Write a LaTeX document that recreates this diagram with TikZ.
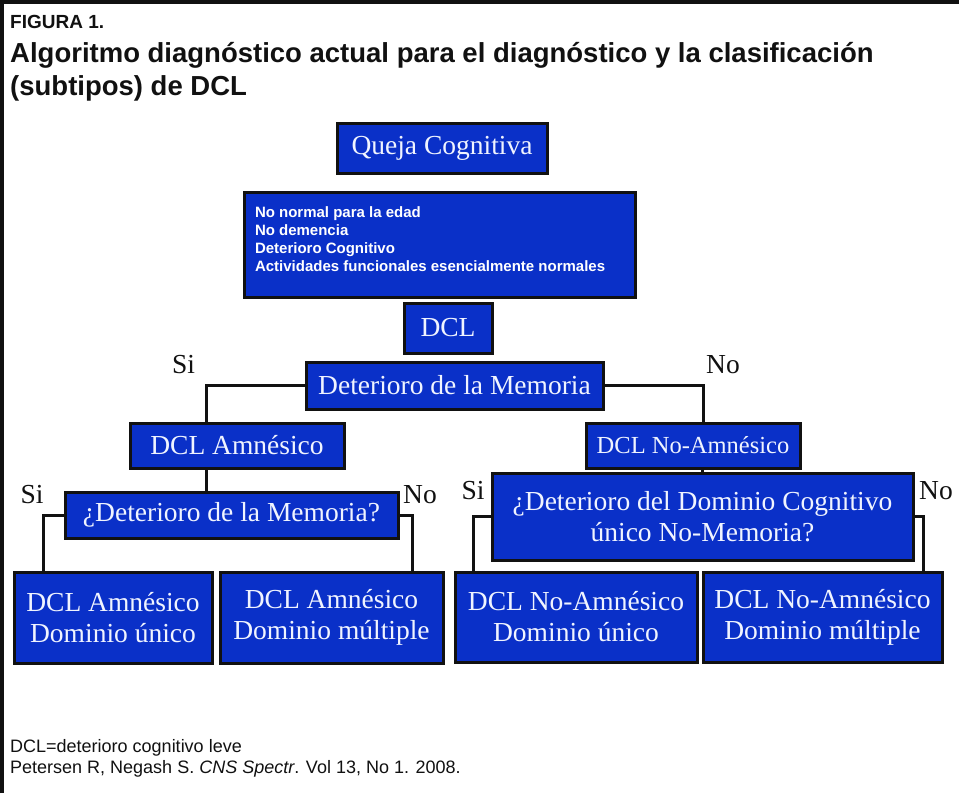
\documentclass[tikz,border=0pt]{standalone}
\usepackage{fontspec}
\setmainfont{Liberation Serif}
\setsansfont{Liberation Sans}
\usepackage{tikz}
\usepackage{xcolor}
\usetikzlibrary{positioning,calc}
\definecolor{boxblue}{HTML}{0A30C8}
\definecolor{boxink}{HTML}{F0F4FF}
\definecolor{ink}{HTML}{111111}
\tikzset{
  bluebox/.style={draw=ink,fill=boxblue,line width=3pt,text=boxink,
                  inner sep=0pt,align=center,font=\fontsize{27.5}{31}\selectfont},
  critbox/.style={draw=ink,fill=boxblue,line width=3pt,text=white,
                  inner xsep=11pt,inner ysep=15pt,
                  font=\sffamily\bfseries\fontsize{15}{18}\selectfont},
  yesno/.style={inner sep=0pt,text=ink,font=\fontsize{27.5}{31}\selectfont},
  elbow/.style={draw=ink,line width=3pt},
  titletext/.style={anchor=base west,inner sep=0pt,text=ink,font=\sffamily\bfseries},
  refline/.style={anchor=base west,inner sep=0pt,text=ink,
                  font=\sffamily\fontsize{18}{21}\selectfont}
}

\begin{document}
\begin{tikzpicture}[x=1pt,y=-1pt]
  \fill[white] (0,0) rectangle (959,793);
  \useasboundingbox (0,0) rectangle (959,793);
  \draw[ink,line width=4pt] (2,793) -- (2,2) -- (959,2);

  % heading
  \node[titletext,font=\sffamily\bfseries\fontsize{19}{22}\selectfont] (fig) at (10,28) {FIGURA 1.};
  \node[titletext,font=\sffamily\bfseries\fontsize{27.5}{33}\selectfont] (tl1) at (10,62)
    {Algoritmo diagnóstico actual para el diagnóstico y la clasificación};
  \node[titletext,font=\sffamily\bfseries\fontsize{27.5}{33}\selectfont] (tl2) at (10,95)
    {(subtipos) de DCL};

  % upper column
  \node[bluebox,minimum width=210pt,minimum height=50pt] (queja) at (442,148) {Queja Cognitiva};
  \node[critbox,minimum width=391pt,minimum height=105pt] (crit) at (439.5,244.5)
    {\parbox[c][75pt][t]{369pt}{No normal para la edad\\No demencia\\Deterioro Cognitivo\\Actividades funcionales esencialmente normales}};
  \node[bluebox,minimum width=88pt,minimum height=50pt] (dcl) at (448,328) {DCL};
  \node[bluebox,minimum width=297pt,minimum height=47pt] (mem) at (454.5,385.5) {Deterioro de la Memoria};

  % branches
  \node[bluebox,minimum width=214pt,minimum height=45pt] (amn) at (237,445.5) {DCL Amnésico};
  \node[bluebox,minimum width=214pt,minimum height=45pt,font=\fontsize{24.5}{28}\selectfont] (noamn) at (693,445.5) {DCL No-Amnésico};
  \node[bluebox,minimum width=333pt,minimum height=46pt] (qmem) at (231.5,515) {¿Deterioro de la Memoria?};
  \node[bluebox,minimum width=421pt,minimum height=87pt] (qdom) at (702.5,516.5)
    {¿Deterioro del Dominio Cognitivo\\único No-Memoria?};

  % subtypes
  \node[bluebox,minimum width=198pt,minimum height=91pt] (leafa) at (113,617.5) {DCL Amnésico\\Dominio único};
  \node[bluebox,minimum width=223pt,minimum height=91pt] (leafb) at (331.5,617.5) {DCL Amnésico\\Dominio múltiple};
  \node[bluebox,minimum width=242pt,minimum height=90pt] (leafc) at (576,617) {DCL No-Amnésico\\Dominio único};
  \node[bluebox,minimum width=239pt,minimum height=90pt] (leafd) at (822.5,617) {DCL No-Amnésico\\Dominio múltiple};

  \node[yesno] (si1) at (183.5,365) {Si};
  \node[yesno] (no1) at (723,365) {No};
  \node[yesno] (si2) at (32,495) {Si};
  \node[yesno] (no2) at (420,495) {No};
  \node[yesno] (si3) at (473,491) {Si};
  \node[yesno] (no3) at (936,491) {No};

  \draw[elbow] (mem.west) -| ([xshift=-31pt]amn.north);
  \draw[elbow] (mem.east) -| ([xshift=10pt]noamn.north);
  \draw[elbow] ([xshift=-31pt]amn.south) -- ([xshift=-31pt]amn.south |- qmem.north);
  \draw[elbow] (qdom.north |- noamn.south) -- (qdom.north);
  \draw[elbow] (qmem.west) -| ([xshift=-70pt]leafa.north);
  \draw[elbow] (qmem.east) -| ([xshift=80.5pt]leafb.north);
  \draw[elbow] (qdom.west) -| ([xshift=-103pt]leafc.north);
  \draw[elbow] (qdom.east) -| ([xshift=100.5pt]leafd.north);

  % source
  \node[refline] (abbr) at (10,752) {DCL=deterioro cognitivo leve};
  \node[refline] (cite) at (10,773) {Petersen R, Negash S. \textit{CNS Spectr}. Vol 13, No 1. 2008.};
\end{tikzpicture}
\end{document}
